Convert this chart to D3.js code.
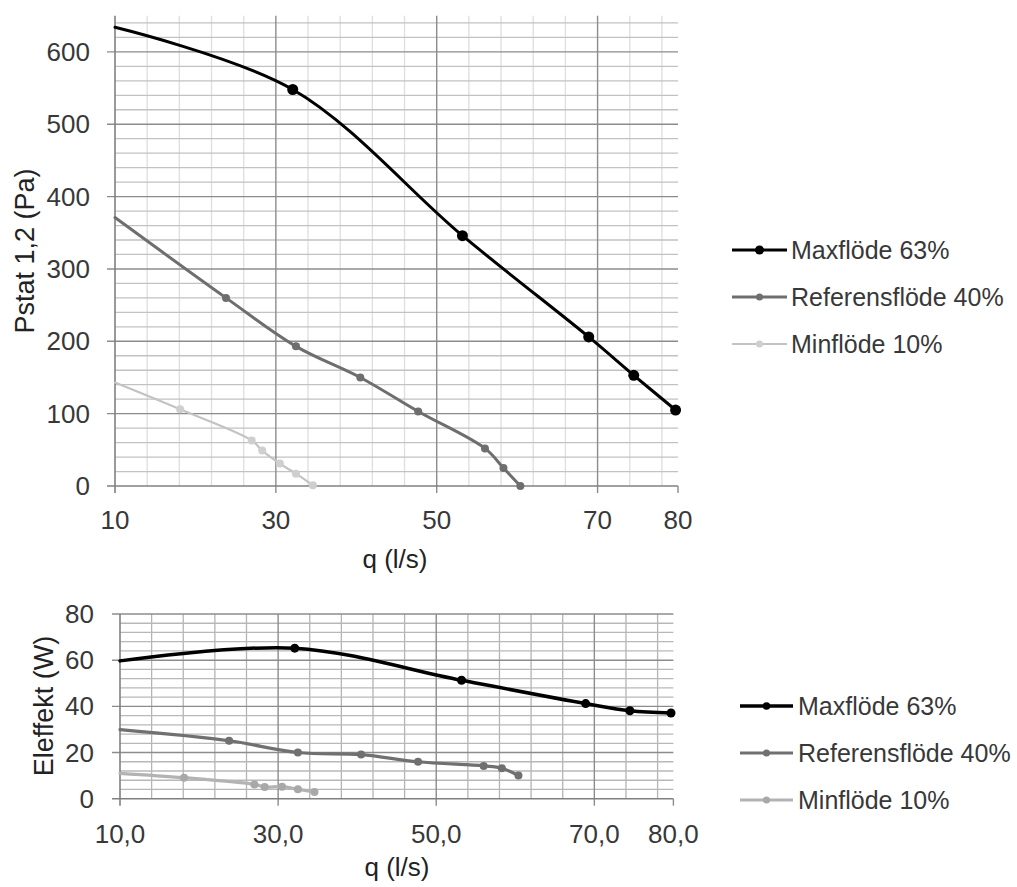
<!DOCTYPE html>
<html>
<head>
<meta charset="utf-8">
<script src="https://cdn.jsdelivr.net/npm/d3@7/dist/d3.min.js"></script>
<style>
  html, body { margin: 0; padding: 0; background: #fff; }
  svg { display: block; font-family: "Liberation Sans", Arial, Helvetica, sans-serif; }
</style>
</head>
<body>
<svg id="chart" width="1017" height="887"></svg>
<script>
// ---------- data ----------
const seriesNames = ["Maxflöde 63%", "Referensflöde 40%", "Minflöde 10%"];

// flow q (l/s); first value of each series is where the line enters the plot (no marker)
const qMax = [10, 32.1, 53.2, 68.9, 74.5, 79.7];
const qRef = [10, 23.8, 32.5, 40.5, 47.7, 56.0, 58.3, 60.4];
const qMin = [10, 18.1, 27.0, 28.3, 30.5, 32.5, 34.6];

// static pressure Pstat 1,2 (Pa)
const pMax = [634, 548, 346, 206, 153, 105];
const pRef = [371, 260, 193, 150, 103, 52, 25, 0];
const pMin = [143, 106, 63, 49, 31, 17, 1];

// electric power (W)
const wMax = [59.7, 65.2, 51.3, 41.2, 38.1, 37.1];
const wRef = [29.9, 25.1, 20.0, 19.1, 16.0, 14.2, 13.2, 10.0];
const wMin = [11.0, 9.1, 6.2, 5.1, 5.2, 4.1, 2.9];

// axis ticks
const xTicks = [10, 30, 50, 70, 80];
const yTicksP = [0, 100, 200, 300, 400, 500, 600];
const yTicksW = [0, 20, 40, 60, 80];

// ---------- drawing ----------
const svg = d3.select("#chart");
const FONT = 26;
const TEXT = "#383838";

function zip(xs, ys) { return xs.map((x, i) => ({ x, y: ys[i], i })); }

function panel(opt) {
  const g = svg.append("g");
  const x = d3.scaleLinear().domain([10, 80]).range(opt.xr);
  const y = d3.scaleLinear().domain(opt.yd).range(opt.yr);

  // minor gridlines
  const xMinor = d3.range(10, 80.001, 4).filter(v => (v - 10) % 20 !== 0);
  const yMinor = d3.range(0, opt.yd[1] + 0.001, opt.yMinorStep).filter(v => v % opt.yMajorStep !== 0);
  g.selectAll(".vminor").data(xMinor).join("line")
    .attr("x1", d => x(d)).attr("x2", d => x(d))
    .attr("y1", opt.yr[0]).attr("y2", opt.yr[1])
    .attr("stroke", opt.vMinorColor).attr("stroke-width", 1.3);
  g.selectAll(".hminor").data(yMinor).join("line")
    .attr("x1", opt.xr[0]).attr("x2", opt.xr[1])
    .attr("y1", d => y(d)).attr("y2", d => y(d))
    .attr("stroke", opt.hMinorColor).attr("stroke-width", 1.3);

  // major gridlines
  const xMajor = [30, 50, 70];
  g.selectAll(".vmajor").data(xMajor).join("line")
    .attr("x1", d => x(d)).attr("x2", d => x(d))
    .attr("y1", opt.yr[0] + 7).attr("y2", opt.yr[1])
    .attr("stroke", "#8c8c8c").attr("stroke-width", 1.4);
  g.selectAll(".hmajor").data(opt.yTicks.filter(v => v > 0)).join("line")
    .attr("x1", opt.xr[0] - 8).attr("x2", opt.xr[1])
    .attr("y1", d => y(d)).attr("y2", d => y(d))
    .attr("stroke", "#8c8c8c").attr("stroke-width", 1.4);

  // axes lines
  g.append("line").attr("x1", opt.xr[0] - 8).attr("x2", opt.xr[1])
    .attr("y1", opt.yr[0]).attr("y2", opt.yr[0]).attr("stroke", "#808080").attr("stroke-width", 1.6);
  g.append("line").attr("x1", opt.xr[0]).attr("x2", opt.xr[0])
    .attr("y1", opt.yr[0] + 7).attr("y2", opt.yr[1]).attr("stroke", "#808080").attr("stroke-width", 1.6);
  // x tick mark at 80
  g.append("line").attr("x1", x(80)).attr("x2", x(80))
    .attr("y1", opt.yr[0]).attr("y2", opt.yr[0] + 7).attr("stroke", "#8c8c8c").attr("stroke-width", 1.4);

  // tick labels
  g.selectAll(".xl").data(xTicks).join("text")
    .attr("x", d => x(d)).attr("y", opt.xLabelBase)
    .attr("text-anchor", "middle").attr("font-size", FONT).attr("fill", TEXT)
    .text(d => opt.xFmt(d));
  g.selectAll(".yl").data(opt.yTicks).join("text")
    .attr("x", opt.yLabelRight).attr("y", d => y(d))
    .attr("dy", "0.35em")
    .attr("text-anchor", "end").attr("font-size", FONT).attr("fill", TEXT)
    .text(d => d);

  // axis titles
  g.append("text").attr("x", opt.xTitle[0]).attr("y", opt.xTitle[1])
    .attr("text-anchor", "middle").attr("font-size", FONT).attr("fill", "#222").text("q (l/s)");
  g.append("text")
    .attr("transform", `translate(${opt.yTitle[0]},${opt.yTitle[1]}) rotate(-90)`)
    .attr("text-anchor", "middle").attr("dy", "0.35em")
    .attr("font-size", FONT + 1).attr("fill", "#222").text(opt.yTitleText);

  // series
  const line = d3.line().x(d => x(d.x)).y(d => y(d.y)).curve(d3.curveCatmullRom.alpha(0.5));
  opt.series.forEach(s => {
    const pts = zip(s.xs, s.ys);
    g.append("path").datum(pts).attr("d", line)
      .attr("fill", "none").attr("stroke", s.color).attr("stroke-width", s.width)
      .attr("stroke-linejoin", "round").attr("stroke-linecap", "round");
    g.selectAll(null).data(pts.slice(1)).join("circle")
      .attr("cx", d => x(d.x)).attr("cy", d => y(d.y)).attr("r", s.r)
      .attr("fill", s.mcolor);
  });

  // legend
  const lg = g.append("g");
  opt.series.forEach((s, i) => {
    const cy = opt.legend.y0 + i * opt.legend.dy;
    lg.append("line").attr("x1", opt.legend.x0).attr("x2", opt.legend.x0 + opt.legend.len)
      .attr("y1", cy).attr("y2", cy).attr("stroke", s.color).attr("stroke-width", s.width);
    lg.append("circle").attr("cx", opt.legend.x0 + opt.legend.len / 2).attr("cy", cy)
      .attr("r", s.lr).attr("fill", s.mcolor);
    lg.append("text").attr("x", opt.legend.tx).attr("y", cy).attr("dy", "0.35em")
      .attr("font-size", FONT - 1).attr("fill", TEXT).text(seriesNames[i]);
  });
}

panel({
  xr: [115, 678], yd: [0, 650], yr: [486, 15.7],
  yMinorStep: 20, yMajorStep: 100, yTicks: yTicksP,
  vMinorColor: "#dedede", hMinorColor: "#c2c2c2",
  xLabelBase: 529, yLabelRight: 90, xFmt: d => String(d),
  xTitle: [395, 568], yTitle: [25, 251], yTitleText: "Pstat 1,2 (Pa)",
  series: [
    { xs: qMax, ys: pMax, color: "#000", mcolor: "#000", width: 3, r: 5.5, lr: 4.5 },
    { xs: qRef, ys: pRef, color: "#6e6e6e", mcolor: "#6e6e6e", width: 3, r: 4, lr: 3.5 },
    { xs: qMin, ys: pMin, color: "#c3c3c3", mcolor: "#cfcfcf", width: 2.2, r: 4, lr: 3.5 }
  ],
  legend: { x0: 732, len: 55, tx: 791, y0: 250, dy: 47 }
});

panel({
  xr: [120, 673.4], yd: [0, 80], yr: [798.7, 614],
  yMinorStep: 4, yMajorStep: 20, yTicks: yTicksW,
  vMinorColor: "#b4b4b4", hMinorColor: "#b8b8b8",
  xLabelBase: 843, yLabelRight: 94, xFmt: d => d3.format(".1f")(d).replace(".", ","),
  xTitle: [397, 876], yTitle: [44, 706], yTitleText: "Eleffekt (W)",
  series: [
    { xs: qMax, ys: wMax, color: "#000", mcolor: "#000", width: 3.5, r: 4.5, lr: 3.8 },
    { xs: qRef, ys: wRef, color: "#707070", mcolor: "#707070", width: 3.2, r: 4, lr: 3.5 },
    { xs: qMin, ys: wMin, color: "#b3b3b3", mcolor: "#a8a8a8", width: 3.2, r: 4, lr: 3.5 }
  ],
  legend: { x0: 740, len: 53, tx: 798, y0: 706, dy: 47 }
});
</script>
</body>
</html>
